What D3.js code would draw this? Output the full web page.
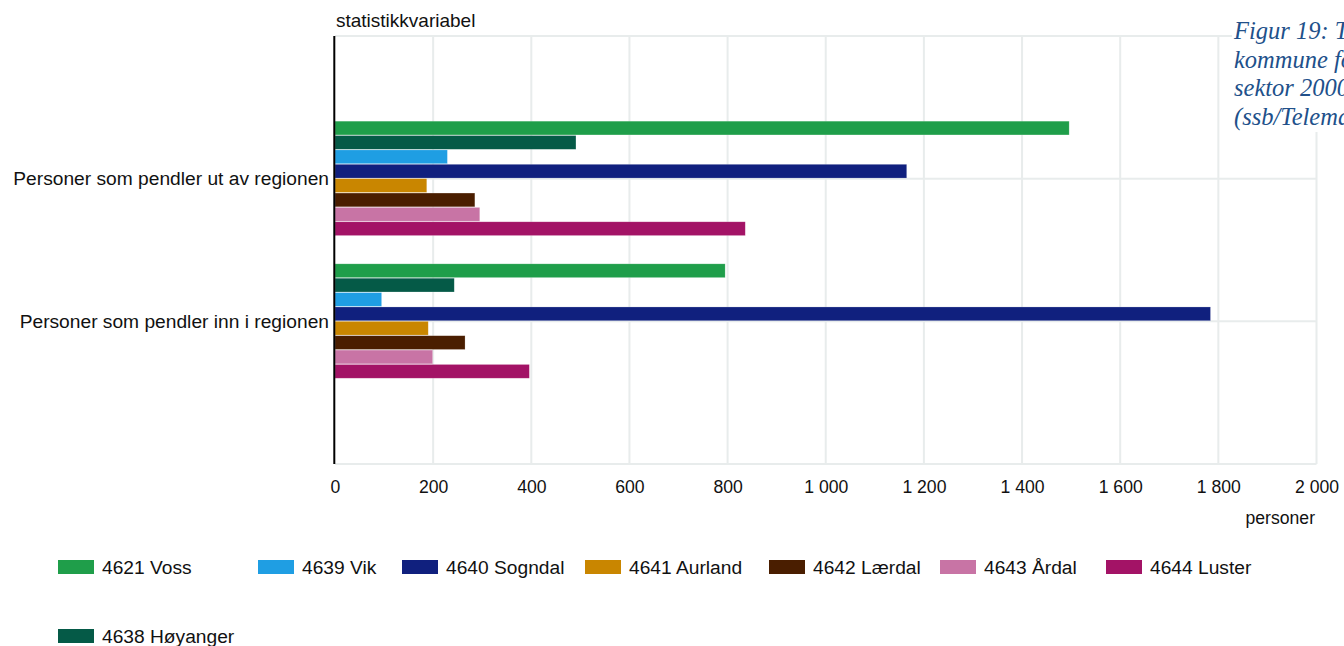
<!DOCTYPE html>
<html><head><meta charset="utf-8">
<script src="https://cdn.jsdelivr.net/npm/d3@7"></script>
<style>
html,body{margin:0;padding:0;background:#fff;overflow:hidden;}
svg{display:block;font-family:"Liberation Sans",Arial,sans-serif;}
</style></head>
<body>
<svg id="c" width="1344" height="646"></svg>
<script>
const categories = ["Personer som pendler ut av regionen", "Personer som pendler inn i regionen"];
const seriesNames = ["4621 Voss", "4638 Høyanger", "4639 Vik", "4640 Sogndal", "4641 Aurland", "4642 Lærdal", "4643 Årdal", "4644 Luster"];
const seriesColors = ["#1f9e4a", "#055a47", "#1f9ee3", "#10207e", "#c98600", "#4a1e00", "#c874a5", "#a31366"];
const valuesUt = [1496, 491, 229, 1165, 187, 285, 295, 836];
const valuesInn = [795, 243, 95, 1784, 190, 265, 199, 396];
const xTicks = [0, 200, 400, 600, 800, 1000, 1200, 1400, 1600, 1800, 2000];
const legendRow1 = ["4621 Voss", "4639 Vik", "4640 Sogndal", "4641 Aurland", "4642 Lærdal", "4643 Årdal", "4644 Luster"];
const legendRow2 = ["4638 Høyanger"];
const captionLines = ["Figur 19: Tal", "kommune fordelt", "sektor 2000", "(ssb/Telemark"];

const svg = d3.select("#c");
const x = d3.scaleLinear().domain([0, 2000]).range([335, 1316.5]);
const y = d3.scalePoint().domain(categories).range([36, 464]).padding(1);
const inner = d3.scaleBand().domain(seriesNames).range([-57.5, 57.5]).padding(0);
const color = d3.scaleOrdinal().domain(seriesNames).range(seriesColors);
const fmt = v => d3.format(",")(v).replace(/,/g, " ");

const grid = svg.append("g");
grid.selectAll("line.v").data(xTicks.slice(1)).join("line")
  .attr("x1", d => x(d)).attr("x2", d => x(d)).attr("y1", 36).attr("y2", 464)
  .attr("stroke", "#e8ecec").attr("stroke-width", 2);
const hLines = [36, ...categories.map(c => y(c)), 464];
grid.selectAll("line.h").data(hLines).join("line")
  .attr("x1", 335).attr("x2", x(2000)).attr("y1", d => d).attr("y2", d => d)
  .attr("stroke", "#e8ecec").attr("stroke-width", 2);

const data = [];
categories.forEach((c, ci) => {
  const vals = ci === 0 ? valuesUt : valuesInn;
  seriesNames.forEach((s, si) => data.push({c, s, v: vals[si]}));
});
svg.append("g").selectAll("rect").data(data).join("rect")
  .attr("x", x(0)).attr("y", d => y(d.c) + inner(d.s))
  .attr("width", d => x(d.v) - x(0)).attr("height", inner.bandwidth() - 0.6)
  .attr("fill", d => color(d.s))
  .attr("stroke", "rgba(255,255,255,0.35)").attr("stroke-width", 0.6);

// y axis line
svg.append("line").attr("x1", 334.3).attr("x2", 334.3).attr("y1", 36).attr("y2", 464)
  .attr("stroke", "#000").attr("stroke-width", 2);

// x axis tick labels
const xAxis = d3.axisBottom(x).tickValues(xTicks).tickFormat(fmt).tickSize(0).tickPadding(0);
const xg = svg.append("g").attr("transform", "translate(0,480)").call(xAxis);
xg.select(".domain").remove();
xg.selectAll("text").attr("font-size", 17.6).attr("fill", "#111").attr("font-family", "Liberation Sans, Arial, sans-serif").attr("dy", "0.75em");

// category labels
svg.append("g").selectAll("text").data(categories).join("text")
  .attr("x", 329).attr("y", d => y(d)).attr("dy", "0.35em")
  .attr("text-anchor", "end").attr("font-size", 19.2).attr("fill", "#111").text(d => d);

svg.append("text").attr("x", 336).attr("y", 27).attr("font-size", 19).attr("fill", "#111").text("statistikkvariabel");
svg.append("text").attr("x", 1315).attr("y", 524).attr("text-anchor", "end").attr("font-size", 17.6).attr("fill", "#111").text("personer");

// legend
const row1X = [58, 258, 402, 585, 769, 940, 1106];
const lg = svg.append("g");
legendRow1.forEach((s, i) => {
  lg.append("rect").attr("x", row1X[i]).attr("y", 560).attr("width", 36).attr("height", 14).attr("fill", color(s));
  lg.append("text").attr("x", row1X[i] + 44).attr("y", 567).attr("dy", "0.35em").attr("font-size", 19.2).attr("fill", "#111").text(s);
});
legendRow2.forEach((s, i) => {
  lg.append("rect").attr("x", 58).attr("y", 629).attr("width", 36).attr("height", 14).attr("fill", color(s));
  lg.append("text").attr("x", 102).attr("y", 636).attr("dy", "0.35em").attr("font-size", 19.2).attr("fill", "#111").text(s);
});

// caption box (clipped by the page edge, as in the reference)
svg.append("rect").attr("x", 1232).attr("y", 16).attr("width", 112).attr("height", 116).attr("fill", "#fff");
svg.append("g").selectAll("text").data(captionLines).join("text")
  .attr("x", 1234).attr("y", (d, i) => 39 + i * 28.5)
  .attr("font-family", "Liberation Serif, serif").attr("font-style", "italic")
  .attr("font-size", 24.5).attr("fill", "#21508a").text(d => d);
</script>
</body></html>
